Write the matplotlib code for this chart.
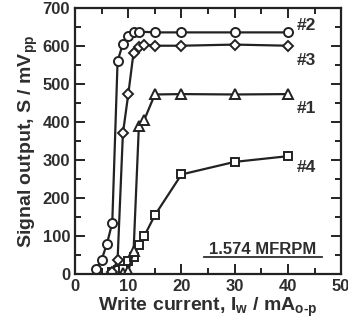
import numpy as np
import matplotlib.pyplot as plt
from matplotlib.ticker import MultipleLocator

plt.rcParams['font.family'] = ['Liberation Sans', 'DejaVu Sans']
plt.rcParams['font.weight'] = 'bold'
plt.rcParams['axes.labelweight'] = 'bold'
plt.rcParams['mathtext.fontset'] = 'custom'
plt.rcParams['mathtext.rm'] = 'Liberation Sans:bold'
plt.rcParams['mathtext.it'] = 'Liberation Sans:bold'
plt.rcParams['mathtext.bf'] = 'Liberation Sans:bold'
plt.rcParams['mathtext.default'] = 'rm'

# data
x2 = [4, 5, 6, 7, 8, 9, 10, 11, 12, 15, 20, 30, 40]
y2 = [15, 38, 80, 135, 560, 605, 625, 635, 637, 635, 635, 635, 635]

x3 = [7, 8, 9, 10, 11, 12, 13, 15, 20, 30, 40]
y3 = [5, 38, 370, 472, 582, 597, 603, 600, 600, 603, 600]

x1 = [9, 10, 11, 12, 13, 15, 20, 30, 40]
y1 = [3, 8, 60, 390, 405, 472, 473, 472, 473]

x4 = [7, 8, 9, 10, 11, 12, 13, 15, 20, 30, 40]
y4 = [5, 10, 15, 35, 45, 78, 100, 155, 262, 295, 310]

txt = '#2e2e2e'
fig = plt.figure(figsize=(3.48, 3.32), dpi=100)
ax = fig.add_axes([0.2155, 0.174, 0.765, 0.803])

style = dict(color='#222222', lw=1.6, mfc='white', mec='#222222', mew=1.4, ms=6.5)
ax.plot(x4, y4, marker='s', **dict(style, ms=6))
ax.plot(x1, y1, marker='^', **style)
ax.plot(x3, y3, marker='D', **dict(style, ms=5.5))
ax.plot(x2, y2, marker='o', **style)

ax.set_xlim(0, 50)
ax.set_ylim(0, 700)
ax.xaxis.set_major_locator(MultipleLocator(10))
ax.xaxis.set_minor_locator(MultipleLocator(5))
ax.yaxis.set_major_locator(MultipleLocator(100))
ax.yaxis.set_minor_locator(MultipleLocator(50))
ax.tick_params(which='both', direction='in', top=True, right=True,
               width=1.4, colors='#222222', labelcolor=txt, labelsize=12)
ax.tick_params(which='major', length=7)
ax.tick_params(which='minor', length=4)
for lbl in ax.get_xticklabels() + ax.get_yticklabels():
    lbl.set_fontweight('bold')
for s in ax.spines.values():
    s.set_linewidth(1.6)
    s.set_color('#222222')

ax.set_xlabel(r'Write current, $I_{w}$ / mA$_{o\text{-}p}$', fontsize=14,
              fontweight='bold', color=txt, labelpad=1)
ax.set_ylabel(r'Signal output, S / mV$_{pp}$', fontsize=14, fontweight='bold',
              color=txt, labelpad=2)

for lab, yy in [('#2', 654), ('#3', 561), ('#1', 436), ('#4', 279)]:
    ax.text(41.6, yy, lab, fontsize=12.5, fontweight='bold', color=txt,
            ha='left', va='center')

ax.text(35.3, 64, '1.574 MFRPM', fontsize=12, fontweight='bold', color=txt,
        ha='center', va='center')
ax.plot([24.2, 46.4], [46, 46], color=txt, lw=1.3)

fig.savefig('out.png', dpi=100)
